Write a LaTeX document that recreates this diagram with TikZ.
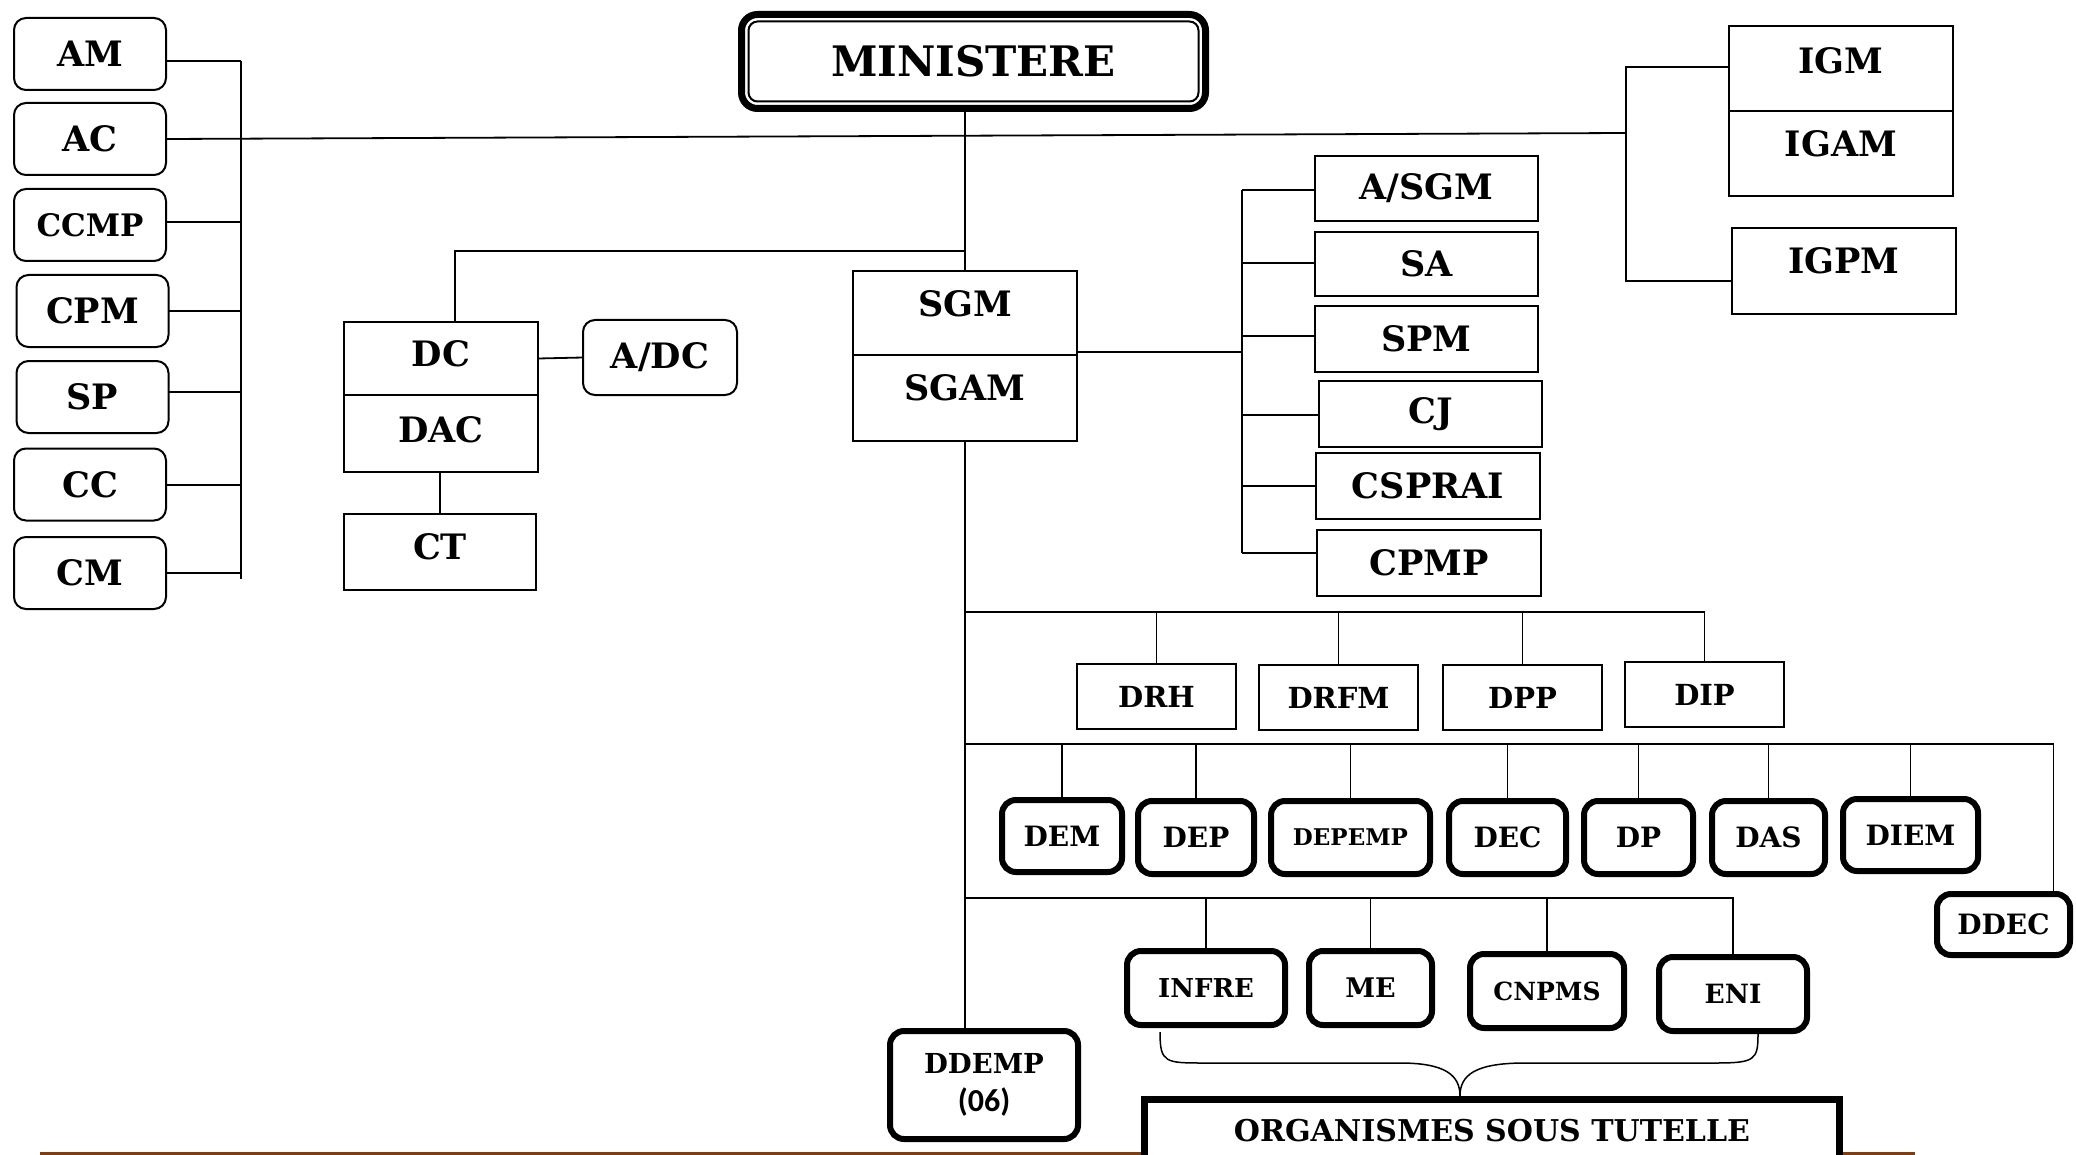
\documentclass[tikz,border=0pt]{standalone}
\usepackage{fontspec}
\setmainfont{DejaVu Serif}
\newfontfamily\carl{Carlito}
\usetikzlibrary{calc}
\definecolor{brn}{RGB}{125,62,20}
\begin{document}
\begin{tikzpicture}[x=1pt,y=-1pt,
  every node/.style={inner sep=0pt, outer sep=0pt},
  conn/.style={line width=1.8pt, black},
  fs/.style={font=\bfseries\fontsize{#1}{#1}\selectfont},
  lbox/.style={draw, line width=2pt, rounded corners=12pt, minimum width=152pt, minimum height=72pt, fs=35},
  sbox/.style={draw, line width=2pt, fs=35},
  tbox/.style={draw, line width=6pt, rounded corners=14pt, fs=28},
  up/.style={text height=25.5pt, text depth=#1}
]
\useasboundingbox (0,0) rectangle (2076,1155);
\clip (0,0) rectangle (2076,1155);

% ---------- top ----------
\node[draw, line width=7pt, rounded corners=16pt, minimum width=464pt, minimum height=94pt, fs=42] (MIN) at (973.5,61.5) {MINISTERE};
\draw[line width=2pt, rounded corners=9pt] ($(MIN.north west)+(7,7)$) rectangle ($(MIN.south east)+(-7,-7)$);

% ---------- left column ----------
\node[lbox] (AM) at (90,54) {AM};
\node[lbox] (AC) at (90,139) {AC};
\node[lbox, fs=31] (CCMP) at (90,225) {CCMP};
\node[lbox] (CPM) at (92.5,311) {CPM};
\node[lbox] (SP) at (92.5,397) {SP};
\node[lbox] (CC) at (90,484.5) {CC};
\node[lbox] (CM) at (90,573) {CM};

\coordinate (sAM) at (241,61);
\coordinate (sCCMP) at (241,222);
\coordinate (sCPM) at (241,311);
\coordinate (sSP) at (241,392);
\coordinate (sCC) at (241,485);
\coordinate (sCM) at (241,573);
\coordinate (lbB) at (241,579);
\draw[conn] (sAM) -- (lbB);
\foreach \n in {AM,CCMP,CPM,SP,CC,CM} \draw[conn] (s\n -| \n.east) -- (s\n);

% ---------- DC group ----------
\node[sbox, minimum width=194pt, minimum height=73pt, up=9pt] (DC) at (441,358.5) {DC};
\node[sbox, minimum width=194pt, minimum height=77pt, up=7pt] (DAC) at (441,433.5) {DAC};
\node[lbox, minimum width=154pt, minimum height=75pt] (ADC) at (660,357.5) {A/DC};
\node[sbox, minimum width=192pt, minimum height=76pt, up=10pt] (CT) at (440,552) {CT};

% ---------- SGM ----------
\node[sbox, minimum width=224pt, minimum height=84pt, up=18pt] (SGM) at (965,313) {SGM};
\node[sbox, minimum width=224pt, minimum height=86pt, up=20pt] (SGAM) at (965,398) {SGAM};

% ---------- right column ----------
\node[sbox, minimum width=223pt, minimum height=65pt] (ASGM) at (1426.5,188.5) {A/SGM};
\node[sbox, minimum width=223pt, minimum height=64pt] (SA) at (1426.5,264) {SA};
\node[sbox, minimum width=223pt, minimum height=66pt] (SPM) at (1426.5,339) {SPM};
\node[sbox, minimum width=223pt, minimum height=66pt] (CJ) at (1430.5,414) {CJ};
\node[sbox, minimum width=224pt, minimum height=66pt] (CSPRAI) at (1428,486) {CSPRAI};
\node[sbox, minimum width=224pt, minimum height=66pt] (CPMP) at (1429,563) {CPMP};

% ---------- IG ----------
\node[sbox, minimum width=224pt, minimum height=85pt, up=16pt] (IGM) at (1841,68.5) {IGM};
\node[sbox, minimum width=224pt, minimum height=85pt, up=20pt] (IGAM) at (1841,153.5) {IGAM};
\node[sbox, minimum width=224pt, minimum height=86pt, up=20pt] (IGPM) at (1844,271) {IGPM};

% ---------- DRH row ----------
\node[sbox, fs=29, minimum width=159pt, minimum height=65pt] (DRH) at (1156.5,696.5) {DRH};
\node[sbox, fs=29, minimum width=159pt, minimum height=65pt] (DRFM) at (1338.5,697.5) {DRFM};
\node[sbox, fs=29, minimum width=159pt, minimum height=65pt] (DPP) at (1522.5,697.5) {DPP};
\node[sbox, fs=29, minimum width=159pt, minimum height=65pt] (DIP) at (1704.5,694.5) {DIP};

% ---------- DEM row ----------
\node[tbox, minimum width=120pt, minimum height=72pt] (DEM) at (1062,836) {DEM};
\node[tbox, minimum width=116pt, minimum height=73pt] (DEP) at (1196,837.5) {DEP};
\node[tbox, fs=23, minimum width=159pt, minimum height=73pt] (DEPEMP) at (1350.5,837.5) {DEPEMP};
\node[tbox, minimum width=117pt, minimum height=73pt] (DEC) at (1507.5,837.5) {DEC};
\node[tbox, minimum width=109pt, minimum height=73pt] (DP) at (1638.5,837.5) {DP};
\node[tbox, minimum width=113pt, minimum height=73pt] (DAS) at (1768.5,837.5) {DAS};
\node[tbox, minimum width=135pt, minimum height=72pt] (DIEM) at (1910.5,835) {DIEM};
\node[tbox, minimum width=133pt, minimum height=61pt] (DDEC) at (2003.5,924.5) {DDEC};

% ---------- INFRE row ----------
\node[tbox, fs=26, minimum width=158pt, minimum height=74pt] (INFRE) at (1206,988) {INFRE};
\node[tbox, fs=27, minimum width=123pt, minimum height=74pt] (ME) at (1370.5,988) {ME};
\node[tbox, fs=25, minimum width=154pt, minimum height=74pt] (CNPMS) at (1547,991) {CNPMS};
\node[tbox, fs=26.5, minimum width=148pt, minimum height=74pt] (ENI) at (1733,994) {ENI};
\node[tbox, fs=27.5, minimum width=188pt, minimum height=108pt, align=center] (DDEMP) at (984,1085) {DDEMP\\[10pt]{\carl\fontsize{32}{32}\selectfont (06)}};

% ---------- bottom ----------
\draw[brn, line width=3pt] (40,1153) -- (1915,1153);
\node[draw, fill=white, line width=7pt, minimum width=695pt, minimum height=63pt, anchor=north, fs=30] (ORG) at (1492,1099.5) {ORGANISMES SOUS TUTELLE};

% ---------- connectors ----------
\coordinate (igM) at (1626,133);
\coordinate (igT) at (1626,67);
\coordinate (igB) at (1626,281);
\draw[conn] (AC.east) -- (igM);
\draw[conn] (IGM.west |- igT) -- (igT) -- (igB) -- (IGPM.west |- igB);

\draw[conn] (SGM.north) -- (SGM.north |- MIN.south);
\coordinate (dcJ) at (965,251);
\coordinate (dcK) at (455,251);
\draw[conn] (dcJ) -- (dcK) -- (dcK |- DC.north);
\draw[conn] (DC.east) -- (ADC.west);
\draw[conn] (CT.north) -- (CT.north |- DAC.south);

\coordinate (rbM) at (1242,352);
\coordinate (rASGM) at (1242,190);
\coordinate (rSA) at (1242,263);
\coordinate (rSPM) at (1242,336);
\coordinate (rCJ) at (1242,415);
\coordinate (rCSPRAI) at (1242,486);
\coordinate (rCPMP) at (1242,553);
\draw[conn] (rbM -| SGM.east) -- (rbM);
\draw[conn] (rASGM) -- (rCPMP);
\foreach \n in {ASGM,SA,SPM,CJ,CSPRAI,CPMP} \draw[conn] (r\n) -- (r\n -| \n.west);

\coordinate (l1) at (966,612);
\coordinate (l2) at (966,744);
\coordinate (l3) at (966,898);
\draw[conn] (SGAM.south) -- (SGAM.south |- DDEMP.north);
\draw[conn] (l1) -| (DIP.north);
\foreach \n in {DRH,DRFM,DPP} \draw[conn] (\n.north) -- (\n.north |- l1);
\draw[conn] (l2) -| ($(DDEC.north)+(50,0)$);
\foreach \n in {DEM,DEP,DEPEMP,DEC,DP,DAS,DIEM} \draw[conn] (\n.north) -- (\n.north |- l2);
\draw[conn] (l3) -| (ENI.north);
\foreach \n in {INFRE,ME,CNPMS} \draw[conn] (\n.north) -- (\n.north |- l3);

% brace
\coordinate (brL) at (1160,1032);
\coordinate (brR) at (1758,1034);
\coordinate (brT) at (1460,1096);
\draw[line width=1.5pt] (brL) .. controls (1160,1063) and (1165,1063) .. (1205,1063) -- (1400,1063)
  .. controls (1445,1063) and (1460,1075) .. (brT)
  .. controls (1460,1075) and (1475,1063) .. (1525,1063) -- (1715,1063)
  .. controls (1755,1063) and (1758,1060) .. (brR);
\end{tikzpicture}
\end{document}
